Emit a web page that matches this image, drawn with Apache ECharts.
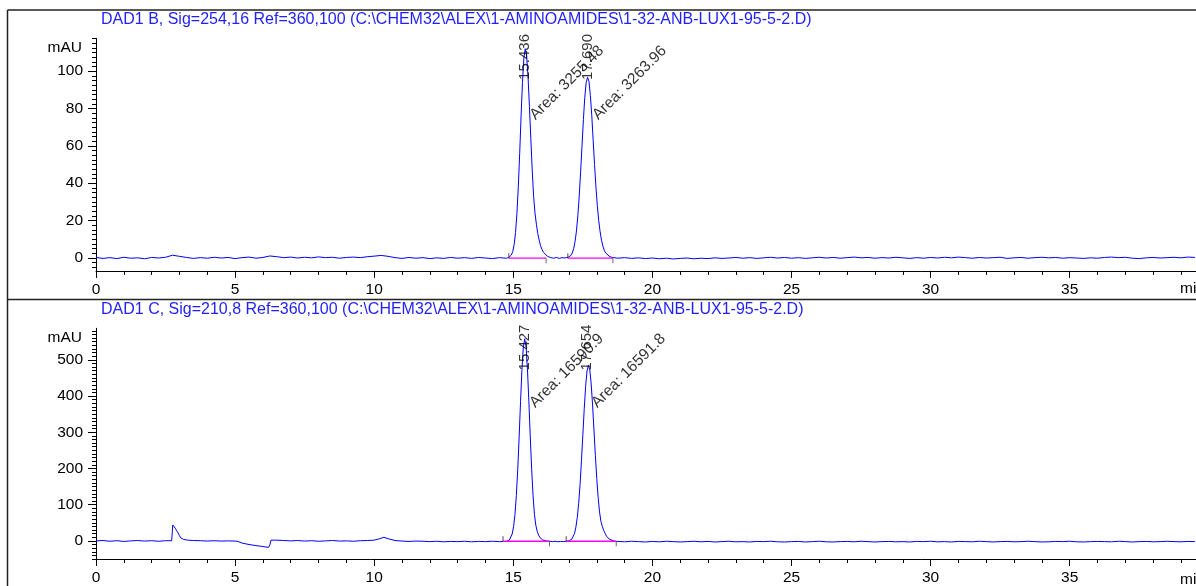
<!DOCTYPE html>
<html><head><meta charset="utf-8">
<script src="https://cdn.jsdelivr.net/npm/echarts@6/dist/echarts.min.js"></script>
<style>html,body{margin:0;padding:0;background:#fff}#c{width:1196px;height:586px}</style>
</head><body><div id="c"></div>
<script>
// ---- tick labels ----
const xTicks = [0, 5, 10, 15, 20, 25, 30, 35];
const topYTicks = [0, 20, 40, 60, 80, 100];
const botYTicks = [0, 100, 200, 300, 400, 500];

// ---- titles / peak annotations ----
const topTitle = 'DAD1 B, Sig=254,16 Ref=360,100 (C:\\CHEM32\\ALEX\\1-AMINOAMIDES\\1-32-ANB-LUX1-95-5-2.D)';
const botTitle = 'DAD1 C, Sig=210,8 Ref=360,100 (C:\\CHEM32\\ALEX\\1-AMINOAMIDES\\1-32-ANB-LUX1-95-5-2.D)';
const topRT = [15.436, 17.690];
const topRTText = ['15.436', '17.690'];
const topAreaText = ['Area: 3255.48', 'Area: 3263.96'];
const botRT = [15.427, 17.654];
const botRTText = ['15.427', '17.654'];
const botAreaText = ['Area: 16590.9', 'Area: 16591.8'];

// ---- integration events (min) ----
const topStarts = [14.84, 16.96];
const topEnds = [16.18, 18.58];
const botStarts = [14.63, 16.90];
const botEnds = [16.30, 18.70];
const topBaseLevel = -0.2;
const botBaseLevel = -1;

// ---- signal DAD1 B (time min, mAU) ----
const topLead = [[0,0.2],[0.25,-0.3],[0.5,0.1],[0.75,-0.4],[1,0.3],[1.25,-0.2],[1.5,0],[1.75,-0.5],[2,0.2],[2.25,-0.1],[2.5,0.3],[2.75,1.4],[3,0.8],[3.25,0.2],[3.5,-0.3],[3.75,0.1],[4,-0.2],[4.25,0.3],[4.5,-0.1],[4.75,0.2],[5,-0.4],[5.25,0.1],[5.5,0.4],[5.75,-0.2],[6,0.2],[6.25,1.0],[6.5,0.6],[6.75,0.1],[7,0.4],[7.25,-0.1],[7.5,0.3],[7.75,0],[8,0.5],[8.25,0.1],[8.5,0.3],[8.75,-0.2],[9,0.2],[9.25,0.4],[9.5,0.1],[9.75,0.6],[10,0.9],[10.25,1.3],[10.5,0.8],[10.75,0.1],[11,-0.3],[11.25,0.2],[11.5,-0.2],[11.75,0.1],[12,-0.4],[12.25,0],[12.5,-0.3],[12.75,0.2],[13,-0.2],[13.25,0.1],[13.5,-0.3],[13.75,0.2],[14,-0.1],[14.25,-0.4],[14.5,0.1],[14.75,-0.2]];
const topPeakA = [[14.83,0.1],[14.88,0.6],[14.93,1.5],[14.98,3.4],[15.03,7],[15.08,13.5],[15.13,23.6],[15.18,38],[15.23,56],[15.28,76],[15.33,94],[15.38,107],[15.43,112],[15.48,108],[15.53,97],[15.58,81],[15.63,64],[15.68,47],[15.73,33],[15.78,24],[15.83,18],[15.88,13],[15.93,9.5],[15.98,6.5],[16.03,4.5],[16.08,3],[16.13,2],[16.23,0.8],[16.33,0.2]];
const topGap = [[16.45,-0.2],[16.55,0.2],[16.65,-0.3],[16.75,0.1],[16.85,-0.1]];
const topPeakB = [[16.97,0.3],[17.07,1.3],[17.12,2.6],[17.17,4.9],[17.22,8.7],[17.27,14.4],[17.32,22.5],[17.37,33],[17.42,46],[17.47,60],[17.52,74],[17.57,86],[17.62,94],[17.67,96.7],[17.72,94.5],[17.77,87],[17.82,76.5],[17.87,63],[17.92,50],[17.97,38],[18.02,28],[18.07,20],[18.12,14],[18.17,9.5],[18.22,6.3],[18.27,4],[18.32,2.6],[18.37,1.6],[18.47,0.6],[18.57,0.2]];
const topTail = [[18.75,-0.2],[19,0.1],[19.25,-0.3],[19.5,0],[19.75,-0.4],[20,-0.1],[20.25,-0.5],[20.5,-0.2],[20.75,-0.6],[21,-0.3],[21.25,-0.1],[21.5,-0.5],[21.75,-0.2],[22,-0.4],[22.25,0],[22.5,-0.3],[22.75,-0.1],[23,0.2],[23.25,-0.2],[23.5,0.1],[23.75,-0.3],[24,0],[24.25,0.3],[24.5,-0.1],[24.75,0.2],[25,-0.2],[25.25,0.1],[25.5,-0.3],[25.75,0],[26,0.3],[26.25,-0.1],[26.5,0.2],[26.75,-0.2],[27,0.1],[27.25,0.4],[27.5,0],[27.75,0.2],[28,-0.2],[28.25,0.1],[28.5,-0.1],[28.75,0.3],[29,0],[29.25,-0.3],[29.5,0.1],[29.75,-0.2],[30,0.2],[30.25,-0.1],[30.5,0.3],[30.75,0],[31,0.4],[31.25,0.1],[31.5,-0.2],[31.75,0.2],[32,-0.1],[32.25,0.1],[32.5,0.3],[32.75,-0.3],[33,0],[33.25,0.2],[33.5,-0.2],[33.75,0.1],[34,0.3],[34.25,0],[34.5,0.2],[34.75,-0.2],[35,0.1],[35.25,-0.1],[35.5,-0.3],[35.75,0],[36,-0.2],[36.25,0.2],[36.5,0.4],[36.75,0.1],[37,0.3],[37.25,-0.2],[37.5,-0.4],[37.75,0],[38,0.2],[38.25,-0.1],[38.5,0.1],[38.75,0.3],[39,0],[39.25,0.4],[39.5,0.2]];

// ---- signal DAD1 C (time min, mAU) ----
const botLead = [[0,0],[0.25,1],[0.5,-1],[0.75,0.5],[1,-1.5],[1.25,0],[1.5,1],[1.75,-0.5],[2,0.5],[2.25,-1],[2.5,0.5],[2.72,0.5],[2.76,44],[2.8,40],[2.85,35],[2.9,28],[2.95,22],[3.0,14],[3.05,8],[3.15,4],[3.3,2],[3.5,1],[3.75,0.5],[4,-0.5],[4.25,0.5],[4.5,-0.5],[4.75,0],[5,-0.5],[5.1,-1.5],[5.25,-6],[5.5,-10],[5.75,-13],[6,-15.5],[6.2,-18],[6.25,-11],[6.29,2],[6.35,4.5],[6.5,2],[6.75,1],[7,0],[7.25,1],[7.5,-0.5],[7.75,0.5],[8,-1],[8.25,0],[8.5,1],[8.75,-0.5],[9,0],[9.25,-1],[9.5,0.5],[9.75,1],[10,2],[10.2,6],[10.35,10],[10.5,6],[10.75,1],[11,-0.5],[11.25,-1.5],[11.5,-0.5],[11.75,-1],[12,-2],[12.25,-1],[12.5,-2.5],[12.75,-1.5],[13,-2],[13.25,-1],[13.5,-2.5],[13.75,-1.5],[14,-2],[14.25,-1],[14.5,-2],[14.75,-1.5]];
const botPeakA = [[14.81,-0.5],[14.86,2.5],[14.91,8],[14.96,19],[15.01,39],[15.06,73],[15.11,125],[15.16,198],[15.21,287],[15.26,384],[15.31,472],[15.36,535],[15.41,558],[15.46,535],[15.51,472],[15.56,384],[15.61,287],[15.66,198],[15.71,125],[15.76,73],[15.81,43],[15.86,26],[15.91,16],[15.96,9],[16.01,5],[16.06,2.5],[16.11,1],[16.21,-0.5]];
const botGap = [[16.3,-1],[16.4,-2],[16.5,-1],[16.6,-2.5],[16.7,-1.5],[16.8,-2],[16.9,-1]];
const botPeakB = [[17.0,0],[17.05,1.5],[17.1,4.5],[17.15,10],[17.2,20],[17.25,38],[17.3,65],[17.35,104],[17.4,156],[17.45,221],[17.5,293],[17.55,365],[17.6,427],[17.65,469],[17.7,485],[17.75,472],[17.8,433],[17.85,375],[17.9,306],[17.95,236],[18.0,172],[18.05,120],[18.1,80],[18.15,54],[18.2,40],[18.25,29],[18.3,21],[18.35,13],[18.4,8],[18.45,5],[18.5,3],[18.6,0],[18.7,-1.5]];
const botTail = [[18.8,-1.5],[19,-2.5],[19.25,-1],[19.5,-2],[19.75,-3],[20,-1.5],[20.25,-2.5],[20.5,-1],[20.75,-2],[21,-3],[21.25,-2],[21.5,-1],[21.75,-2.5],[22,-1.5],[22.25,-3],[22.5,-2],[22.75,-1],[23,-2.5],[23.25,-2],[23.5,-3],[23.75,-1.5],[24,-2],[24.25,-1],[24.5,-2.5],[24.75,-3],[25,-2],[25.25,-1.5],[25.5,-3],[25.75,-2],[26,-1],[26.25,-2.5],[26.5,-3],[26.75,-2],[27,-1.5],[27.25,-2.5],[27.5,-1],[27.75,-2],[28,-3],[28.25,-2],[28.5,-1.5],[28.75,-2.5],[29,-2],[29.25,-3],[29.5,-1.5],[29.75,-2],[30,-1],[30.25,-2.5],[30.5,-2],[30.75,-3],[31,-1.5],[31.25,-2],[31.5,-2.5],[31.75,-1],[32,-2],[32.25,-3],[32.5,-2],[32.75,-1.5],[33,-2.5],[33.25,-2],[33.5,-1],[33.75,-2],[34,-3],[34.25,-2.5],[34.5,-1.5],[34.75,-2],[35,-1],[35.25,-2.5],[35.5,-3],[35.75,-2],[36,-1.5],[36.25,-2],[36.5,-2.5],[36.75,-1],[37,-2],[37.25,-3],[37.5,-2],[37.75,-1.5],[38,-2.5],[38.25,-2],[38.5,-1],[38.75,-2],[39,-2.5],[39.25,-1.5],[39.5,-2]];

// ---- build ----
const FONT = '"Liberation Sans", Arial, Helvetica, sans-serif';
const BLUE = '#0000ff';
const TITLE_BLUE = '#1f1fff';
const topTrace = [].concat(topLead, topPeakA, topGap, topPeakB, topTail);
const botTrace = [].concat(botLead, botPeakA, botGap, botPeakB, botTail);

function steps(a, b, s) { const r = []; for (let v = a; v <= b + 1e-9; v += s) r.push(Math.round(v * 100) / 100); return r; }
const X_MAX = 39.54;
const TOP_MIN = -7, TOP_MAX = 117.5;
const BOT_MIN = -50, BOT_MAX = 587;
const xMinor = steps(0, 39, 1);
const topMinor = steps(-5, 117.5, 2.5);
const botMinor = steps(-50, 580, 10);

function xAxes(g) {
  return [
    { gridIndex: g, type: 'value', position: 'bottom', min: 0, max: X_MAX,
      axisLine: { onZero: false, lineStyle: { color: '#000', width: 1 } },
      axisTick: { customValues: xTicks, length: 7, lineStyle: { color: '#000' } },
      axisLabel: { customValues: xTicks, margin: 11, fontSize: 15.5, color: '#000', fontFamily: FONT },
      splitLine: { show: false } },
    { gridIndex: g, type: 'value', position: 'bottom', min: 0, max: X_MAX,
      axisLine: { show: false, onZero: false },
      axisTick: { customValues: xMinor, length: 4, lineStyle: { color: '#000' } },
      axisLabel: { show: false }, splitLine: { show: false } }
  ];
}
function yAxes(g, mn, mx, major, minor) {
  return [
    { gridIndex: g, type: 'value', position: 'left', min: mn, max: mx,
      axisLine: { show: true, onZero: false, lineStyle: { color: '#000', width: 1 } },
      axisTick: { show: true, customValues: major, length: 8, lineStyle: { color: '#000' } },
      axisLabel: { customValues: major, margin: 13, fontSize: 15.5, color: '#000', fontFamily: FONT },
      splitLine: { show: false } },
    { gridIndex: g, type: 'value', position: 'left', min: mn, max: mx,
      axisLine: { show: false, onZero: false },
      axisTick: { show: true, customValues: minor, length: 4, lineStyle: { color: '#000' } },
      axisLabel: { show: false }, splitLine: { show: false } }
  ];
}

function panelSeries(xi, yi, trace, baseA, baseB, starts, ends, level, rt, rtText, areaText, rtY, areaY) {
  const s = [];
  s.push({ type: 'line', xAxisIndex: xi, yAxisIndex: yi, data: trace, symbol: 'none', silent: true,
    lineStyle: { color: BLUE, width: 1 }, z: 2 });
  [baseA, baseB].forEach(function (seg) {
    s.push({ type: 'line', xAxisIndex: xi, yAxisIndex: yi, data: seg, symbol: 'none', silent: true,
      lineStyle: { color: '#ff00ff', width: 1.3 }, z: 3 });
  });
  s.push({ type: 'scatter', xAxisIndex: xi, yAxisIndex: yi, silent: true, z: 4,
    data: starts.map(function (t) { return [t, level]; }),
    symbol: 'rect', symbolSize: [1, 5], symbolOffset: [0, -2.5], itemStyle: { color: '#222' } });
  s.push({ type: 'scatter', xAxisIndex: xi, yAxisIndex: yi, silent: true, z: 4,
    data: ends.map(function (t) { return [t, level]; }),
    symbol: 'rect', symbolSize: [1, 5], symbolOffset: [0, 2.5], itemStyle: { color: '#444' } });
  s.push({ type: 'scatter', xAxisIndex: xi, yAxisIndex: yi, silent: true, z: 5,
    data: rt.map(function (t, i) { return { value: [t, rtY], name: rtText[i] }; }),
    symbolSize: 0.5, itemStyle: { color: 'rgba(0,0,0,0)' },
    label: { show: true, formatter: '{b}', rotate: 90, position: [0, 0], align: 'left', verticalAlign: 'middle',
      fontSize: 15, color: '#000', fontFamily: FONT } });
  s.push({ type: 'scatter', xAxisIndex: xi, yAxisIndex: yi, silent: true, z: 5,
    data: rt.map(function (t, i) { return { value: [t, areaY], name: areaText[i] }; }),
    symbolSize: 0.5, itemStyle: { color: 'rgba(0,0,0,0)' },
    label: { show: true, formatter: '{b}', rotate: 45, position: [13, 2], align: 'left', verticalAlign: 'bottom',
      fontSize: 15.5, color: '#000', fontFamily: FONT } });
  return s;
}

const chart = echarts.init(document.getElementById('c'), null, { renderer: 'canvas' });
const txt = function (x, y, text, color, align, size) {
  return { type: 'text', x: x, y: y, silent: true, z: 10,
    style: { text: text, fill: color, font: size + 'px ' + FONT, align: align, verticalAlign: 'middle',
      textAlign: align, textVerticalAlign: 'middle' } };
};
chart.setOption({
  animation: false,
  backgroundColor: '#fff',
  grid: [
    { left: 96, top: 38.5, width: 1100, height: 232.4 },
    { left: 96, top: 328.3, width: 1100, height: 233.4 }
  ],
  xAxis: [].concat(xAxes(0), xAxes(1)),
  yAxis: [].concat(yAxes(0, TOP_MIN, TOP_MAX, topYTicks, topMinor), yAxes(1, BOT_MIN, BOT_MAX, botYTicks, botMinor)),
  series: [].concat(
    panelSeries(0, 0, topTrace, [[topStarts[0], topBaseLevel], [topEnds[0], topBaseLevel]], [[topStarts[1], topBaseLevel], [topEnds[1], topBaseLevel]],
      topStarts, topEnds, topBaseLevel, topRT, topRTText, topAreaText, 95.2, 73.2),
    panelSeries(2, 2, botTrace, [[botStarts[0], botBaseLevel], [botEnds[0], botBaseLevel]], [[botStarts[1], botBaseLevel], [botEnds[1], botBaseLevel]],
      botStarts, botEnds, botBaseLevel, botRT, botRTText, botAreaText, 470, 363.7)
  ),
  graphic: [
    { type: 'line', silent: true, shape: { x1: 7.5, y1: 10, x2: 1196, y2: 10 }, style: { stroke: '#222', lineWidth: 1.5 } },
    { type: 'line', silent: true, shape: { x1: 7.5, y1: 10, x2: 7.5, y2: 586 }, style: { stroke: '#222', lineWidth: 1.5 } },
    { type: 'line', silent: true, shape: { x1: 7.5, y1: 299.5, x2: 1196, y2: 299.5 }, style: { stroke: '#222', lineWidth: 1.5 } },
    txt(101, 20, topTitle, TITLE_BLUE, 'left', 16),
    txt(101, 310, botTitle, TITLE_BLUE, 'left', 16),
    txt(82, 48, 'mAU', '#000', 'right', 15.5),
    txt(82, 338, 'mAU', '#000', 'right', 15.5),
    txt(1180, 289, 'min', '#000', 'left', 15.5),
    txt(1180, 580, 'min', '#000', 'left', 15.5)
  ]
});
</script>
</body></html>
